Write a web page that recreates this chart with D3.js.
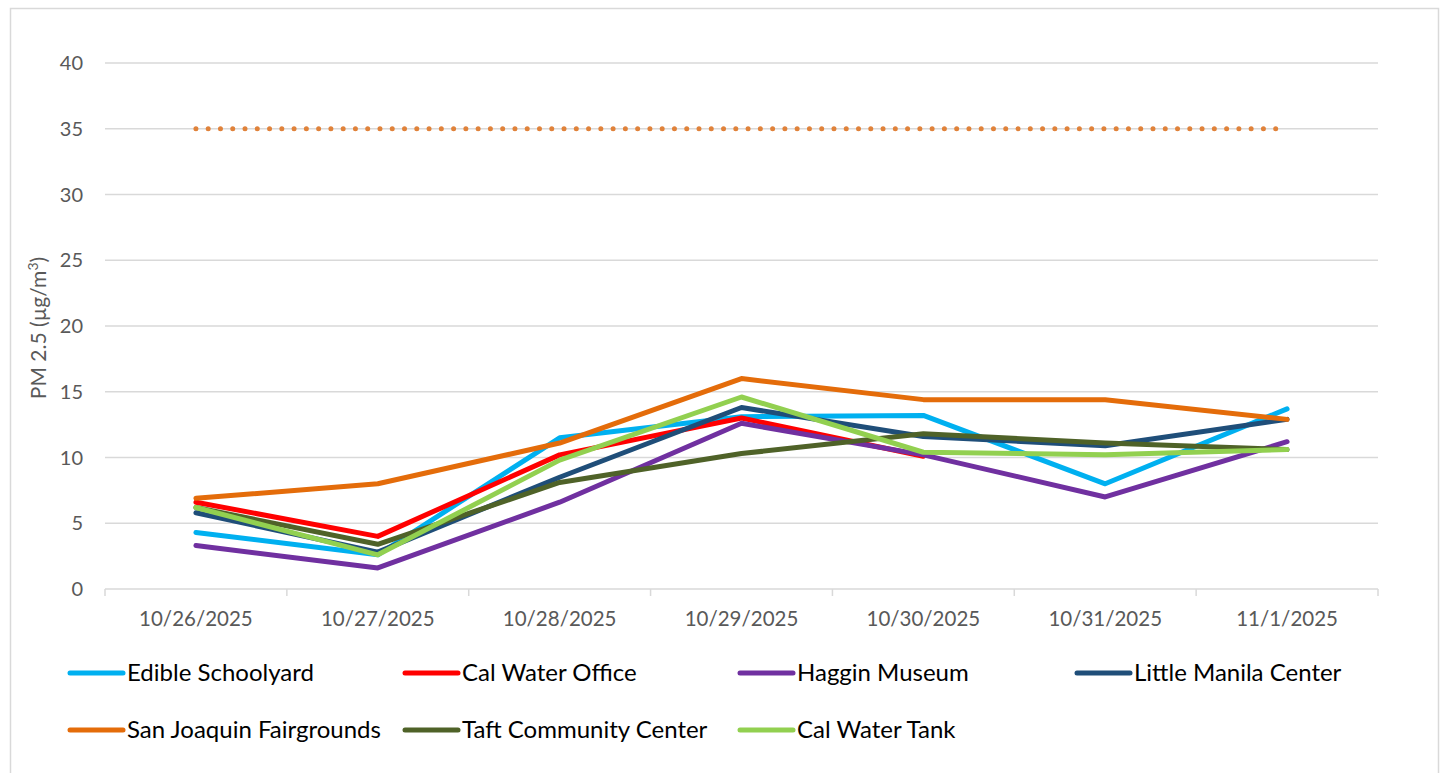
<!DOCTYPE html>
<html>
<head>
<meta charset="utf-8">
<script src="https://cdn.jsdelivr.net/npm/d3@7"></script>
<style>
  html, body { margin: 0; padding: 0; background: #fff; }
  svg { display: block; }
  text { font-family: Lato, "Open Sans", sans-serif; }
</style>
</head>
<body>
<svg id="chart" width="1444" height="773"></svg>
<script>
const dates = ["10/26/2025", "10/27/2025", "10/28/2025", "10/29/2025", "10/30/2025", "10/31/2025", "11/1/2025"];
const yTicks = [0, 5, 10, 15, 20, 25, 30, 35, 40];

const edibleSchoolyard     = [4.3, 2.6, 11.5, 13.1, 13.2, 8.0, 13.7];
const calWaterOffice       = [6.6, 4.0, 10.2, 13.0, 10.1, null, null];
const hagginMuseum         = [3.3, 1.6, 6.6, 12.6, 10.2, 7.0, 11.2];
const littleManilaCenter   = [5.8, 2.8, 8.5, 13.8, 11.6, 10.9, 12.9];
const sanJoaquinFairground = [6.9, 8.0, 11.1, 16.0, 14.4, 14.4, 12.9];
const taftCommunityCenter  = [6.2, 3.4, 8.1, 10.3, 11.8, 11.1, 10.6];
const calWaterTank         = [6.2, 2.6, 9.8, 14.6, 10.4, 10.2, 10.6];
const standard             = [35, 35, 35, 35, 35, 35, 35];

const seriesNames = ["Edible Schoolyard", "Cal Water Office", "Haggin Museum", "Little Manila Center",
                     "San Joaquin Fairgrounds", "Taft Community Center", "Cal Water Tank"];
const seriesValues = [edibleSchoolyard, calWaterOffice, hagginMuseum, littleManilaCenter,
                      sanJoaquinFairground, taftCommunityCenter, calWaterTank];
const seriesColors = ["#00B0F0", "#FF0000", "#7030A0", "#1F4E79", "#E46C0A", "#4F6228", "#92D050"];

const svg = d3.select("#chart");

// chart frame
svg.append("rect").attr("x", 10.5).attr("y", 8.5).attr("width", 1428).attr("height", 800)
  .attr("fill", "#fff").attr("stroke", "#D9D9D9").attr("stroke-width", 1.5);

const plot = { left: 105, right: 1378, top: 63, bottom: 589 };

const x = d3.scaleBand().domain(dates).range([plot.left, plot.right]).paddingInner(0).paddingOuter(0);
const y = d3.scaleLinear().domain([0, 40]).range([plot.bottom, plot.top]);
const cx = d => x(d) + x.bandwidth() / 2;

// gridlines
svg.append("g").selectAll("line").data(yTicks.filter(t => t > 0)).join("line")
  .attr("x1", plot.left).attr("x2", plot.right)
  .attr("y1", d => y(d)).attr("y2", d => y(d))
  .attr("stroke", "#D9D9D9").attr("stroke-width", 1.5);

// y tick labels
svg.append("g").selectAll("text").data(yTicks).join("text")
  .attr("x", 83).attr("y", d => y(d)).attr("dy", "0.35em")
  .attr("text-anchor", "end").attr("fill", "#595959").attr("font-size", 20)
  .text(d => d);

// x axis
const xAxis = svg.append("g").attr("transform", `translate(0,${plot.bottom})`);
xAxis.append("line").attr("x1", plot.left).attr("x2", plot.right).attr("y1", 0).attr("y2", 0)
  .attr("stroke", "#D9D9D9").attr("stroke-width", 1.5);
const boundaries = dates.map(d => x(d)).concat([plot.right]);
xAxis.selectAll("line.tick").data(boundaries).join("line").attr("class", "tick")
  .attr("x1", d => d).attr("x2", d => d).attr("y1", 0).attr("y2", 7)
  .attr("stroke", "#D9D9D9").attr("stroke-width", 1.5);
xAxis.selectAll("text").data(dates).join("text")
  .attr("x", d => cx(d)).attr("y", 37)
  .attr("text-anchor", "middle").attr("fill", "#595959").attr("font-size", 20.5)
  .text(d => d);

// y axis title
svg.append("text")
  .attr("transform", `translate(46,${(plot.top + plot.bottom) / 2 + 2}) rotate(-90)`)
  .attr("text-anchor", "middle").attr("fill", "#595959").attr("font-size", 21)
  .html('PM 2.5 (µg/m<tspan dy="-8" font-size="14">3</tspan><tspan dy="8">)</tspan>');

// standard dotted line
const line = d3.line().defined(d => d.v != null).x(d => cx(d.k)).y(d => y(d.v));
svg.append("path")
  .attr("d", line(dates.map((k, i) => ({ k, v: standard[i] }))))
  .attr("fill", "none").attr("stroke", "#E0823A").attr("stroke-width", 5)
  .attr("stroke-linecap", "round").attr("stroke-dasharray", "0 12.27");

// series
seriesValues.forEach((vals, i) => {
  svg.append("path")
    .attr("d", line(dates.map((k, j) => ({ k, v: vals[j] }))))
    .attr("fill", "none").attr("stroke", seriesColors[i]).attr("stroke-width", 5)
    .attr("stroke-linecap", "round").attr("stroke-linejoin", "round");
});

// legend
const legendCols = [68, 403, 738, 1075];
const legendRows = [673, 730];
const lg = svg.append("g");
seriesNames.forEach((name, i) => {
  const col = i % 4, row = Math.floor(i / 4);
  const g = lg.append("g").attr("transform", `translate(${legendCols[col]},${legendRows[row]})`);
  g.append("line").attr("x1", 2).attr("x2", 55).attr("y1", 0).attr("y2", 0)
    .attr("stroke", seriesColors[i]).attr("stroke-width", 5).attr("stroke-linecap", "round");
  g.append("text").attr("x", 59).attr("y", 0).attr("dy", "0.35em")
    .attr("fill", "#000").attr("font-size", 24).text(name);
});
</script>
</body>
</html>
